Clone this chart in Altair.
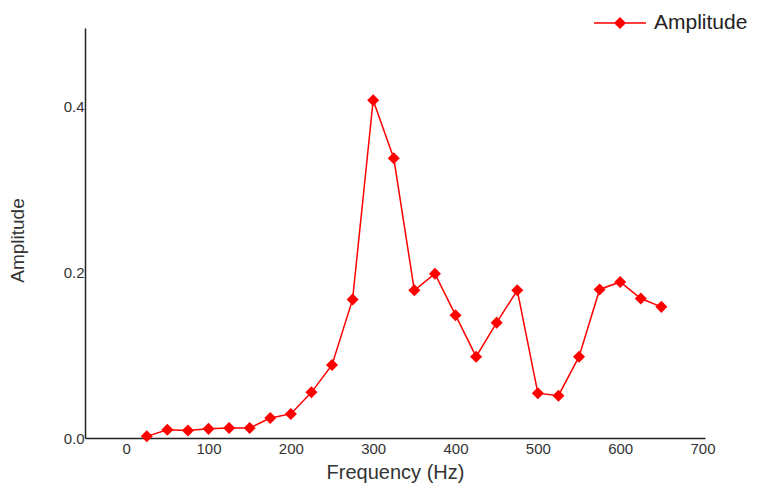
import altair as alt
import pandas as pd

freq = [25, 50, 75, 100, 125, 150, 175, 200, 225, 250, 275, 300, 325, 350,
        375, 400, 425, 450, 475, 500, 525, 550, 575, 600, 625, 650]
amp = [0.002, 0.010, 0.009, 0.011, 0.012, 0.012, 0.024, 0.029, 0.055, 0.088,
       0.167, 0.407, 0.337, 0.178, 0.198, 0.148, 0.098, 0.139, 0.178, 0.054,
       0.051, 0.098, 0.179, 0.188, 0.168, 0.158]
series = ["Amplitude"] * len(freq)

df = pd.DataFrame({"Frequency": freq, "Amplitude": amp, "Series": series})

FONT = "Liberation Sans"
RED = "#ff0000"

x = alt.X("Frequency:Q", title="Frequency (Hz)",
          scale=alt.Scale(domain=[-50, 703], nice=False, zero=False),
          axis=alt.Axis(values=[0, 100, 200, 300, 400, 500, 600, 700],
                        grid=False, ticks=False, labelPadding=3,
                        labelFontSize=15, labelColor="#333333", labelFont=FONT,
                        titleFont=FONT, titleFontSize=20, titleFontWeight="normal",
                        titleColor="#333333", titlePadding=6,
                        domainColor="#222222", domainWidth=1.5, labelFlush=False))
y = alt.Y("Amplitude:Q", title="Amplitude",
          scale=alt.Scale(domain=[0, 0.494], nice=False),
          axis=alt.Axis(values=[0, 0.2, 0.4], format=".1f", grid=False, ticks=False,
                        labelPadding=1, labelFontSize=15, labelColor="#333333",
                        labelFont=FONT, titleFont=FONT, titleFontSize=19,
                        titleFontWeight="normal", titleColor="#333333",
                        titleX=-58, titleY=212, titleAlign="center",
                        domainColor="#222222", domainWidth=1.5, labelFlush=False))

color = alt.Color("Series:N",
                  scale=alt.Scale(domain=["Amplitude"], range=[RED]),
                  legend=alt.Legend(title=None, orient="none", legendX=508, legendY=-32,
                                    symbolType="M-1,0L1,0M0,-0.19L0.19,0L0,0.19L-0.19,0Z",
                                    symbolSize=2704, symbolStrokeWidth=1.5,
                                    symbolFillColor=RED, symbolStrokeColor=RED,
                                    labelFont=FONT, labelFontSize=21, labelColor="#222222",
                                    labelOffset=7))

base = alt.Chart(df)
line = base.mark_line(strokeWidth=1.5).encode(x=x, y=y, color=color)
pts = base.mark_point(shape="diamond", filled=True, size=145, opacity=1).encode(
    x=x, y=y, color=alt.Color("Series:N", scale=alt.Scale(domain=["Amplitude"], range=[RED]), legend=None))

chart = alt.layer(line, pts).properties(
    width=620, height=410,
    autosize=alt.AutoSizeParams(type="none"),
    padding={"left": 77, "top": 20, "right": 47, "bottom": 46},
    background="white",
).configure_view(stroke=None)

chart.save("out.html", embed_options={"renderer": "svg", "actions": False})
